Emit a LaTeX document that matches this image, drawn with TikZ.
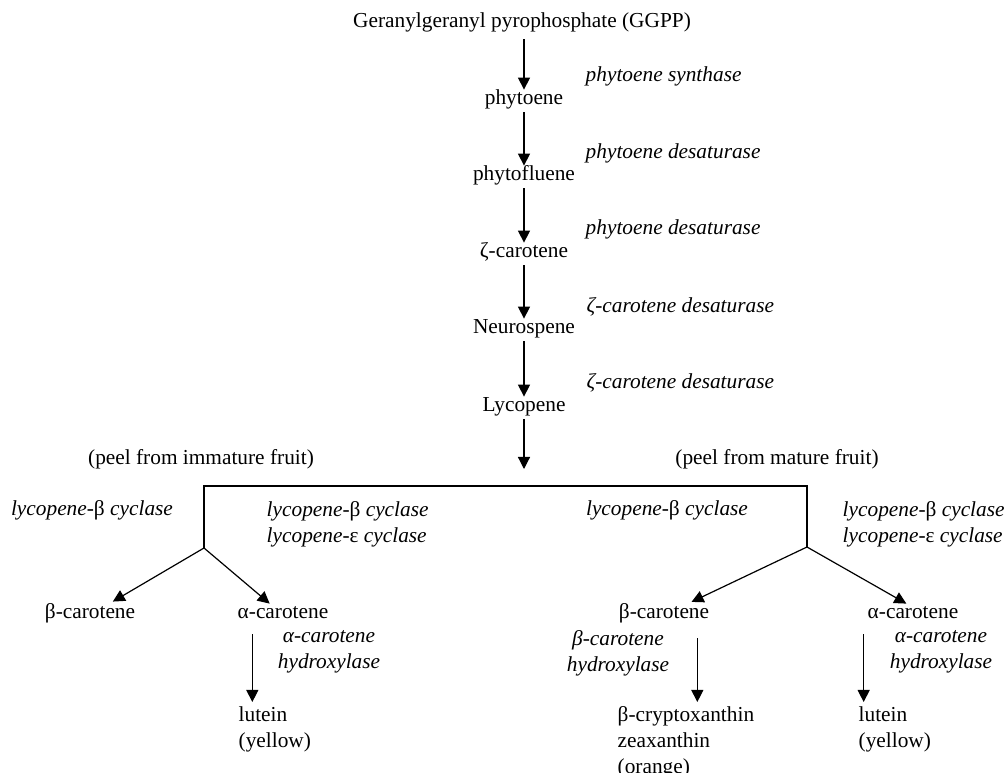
\documentclass[tikz,border=0pt]{standalone}
\usepackage{fontspec}
\setmainfont{Liberation Serif}
\usepackage{tikz}
\usetikzlibrary{arrows.meta}
\usetikzlibrary{positioning}
\newcommand{\figfont}{\fontsize{16}{19.5}\selectfont}
\tikzset{arr/.style = {-{Triangle[length = 9pt, width = 9pt]}, line width = 0.9pt}}
\tikzset{cpd/.style = {text height = 0.75em, text depth = 0.25em}}
\tikzset{enz/.style = {font = \figfont\itshape, text height = 0.75em, text depth = 0.25em}}
\tikzset{enzz/.style = {font = \figfont\itshape}}
\tikzset{two/.style = {align = left, anchor = north west}}

\begin{document}
\begin{tikzpicture}[x=0.75pt, y=-0.75pt, font=\figfont]
      \useasboundingbox (0, 0) rectangle (1008, 773);

      % main chain
      \node [cpd] (ggpp) at (522, 24) {Geranylgeranyl pyrophosphate (GGPP)};
      \node [cpd] (phy) at (524, 101) {phytoene};
      \node [cpd] (phyf) at (524, 177) {phytofluene};
      \node [cpd] (zcar) at (524, 254) {ζ-carotene};
      \node [cpd] (neu) at (524, 330) {Neurospene};
      \node [cpd] (lyc) at (524, 408) {Lycopene};

      \node [enz, anchor = west] (psy) at (581, 78) {phytoene synthase};
      \node [enz, anchor = west] (pds1) at (581, 155) {phytoene desaturase};
      \node [enz, anchor = west] (pds2) at (581, 231) {phytoene desaturase};
      \node [enz, anchor = west] (zds1) at (582, 309) {ζ-carotene desaturase};
      \node [enz, anchor = west] (zds2) at (582, 385) {ζ-carotene desaturase};

      \draw [arr, shorten <= 3pt] (ggpp.south -| phy) -- (phy);
      \draw [arr] (phy) -- (phyf);
      \draw [arr] (phyf) -- (zcar);
      \draw [arr] (zcar) -- (neu);
      \draw [arr] (neu) -- (lyc);

      % branch
      \coordinate (split) at (524, 469);
      \coordinate (hl) at (204, 486);
      \coordinate (hr) at (807, 486);
      \coordinate (bl) at (204, 548);
      \coordinate (br) at (807, 547);
      \draw [arr] (lyc) -- (split);
      \draw [line width = 0.9pt] (bl) -- (hl) -- (hr) -- (br);

      \node [cpd] (peelL) at (201, 461) {(peel from immature fruit)};
      \node [cpd] (peelR) at (777, 461) {(peel from mature fruit)};

      \node [enz] (cycL) at (92, 512) {lycopene-\textup{β} cyclase};
      \node [enzz, two] (cycLL) at (262, 497) {lycopene-\textup{β} cyclase\\lycopene-\textup{ε} cyclase};
      \node [enz] (cycR) at (667, 512) {lycopene-\textup{β} cyclase};
      \node [enzz, two] (cycRR) at (838, 497) {lycopene-\textup{β} cyclase\\lycopene-\textup{ε} cyclase};

      \node [cpd] (bcarL) at (90, 615) {β-carotene};
      \node [cpd] (acarL) at (283, 615) {α-carotene};
      \node [cpd] (bcarR) at (664, 615) {β-carotene};
      \node [cpd] (acarR) at (913, 615) {α-carotene};

      \draw [arr, shorten > = 3pt] (bl) -- (bcarL);
      \draw [arr] (bl) -- ([xshift = -10]acarL.north);
      \draw [arr, shorten > = 3pt] (br) -- (bcarR);
      \draw [arr] (br) -- ([xshift = -5]acarR.north);

      % hydroxylases
      \node [enzz, align = center, anchor = north] (hydL) at (329, 626) {α-carotene\\hydroxylase};
      \node [enzz, align = center, anchor = north] (hydM) at (618, 626) {β-carotene\\hydroxylase};
      \node [enzz, align = center, anchor = north] (hydR) at (941, 626) {α-carotene\\hydroxylase};

      \node [two] (lutL) at (234, 702) {lutein\\(yellow)};
      \node [two] (crypt) at (613, 702) {β-cryptoxanthin\\zeaxanthin\\(orange)};
      \node [two] (lutR) at (854, 702) {lutein\\(yellow)};

      \draw [arr, shorten <= 6pt] ([xshift = -23]acarL.south) -- ([xshift = -23]acarL.south |- lutL.north);
      \draw [arr, shorten <= 9pt] ([xshift = 25]bcarR.south) -- ([xshift = 25]bcarR.south |- crypt.north);
      \draw [arr, shorten <= 6pt] ([xshift = -37]acarR.south) -- ([xshift = -37]acarR.south |- lutR.north);
    \end{tikzpicture}
\end{document}
